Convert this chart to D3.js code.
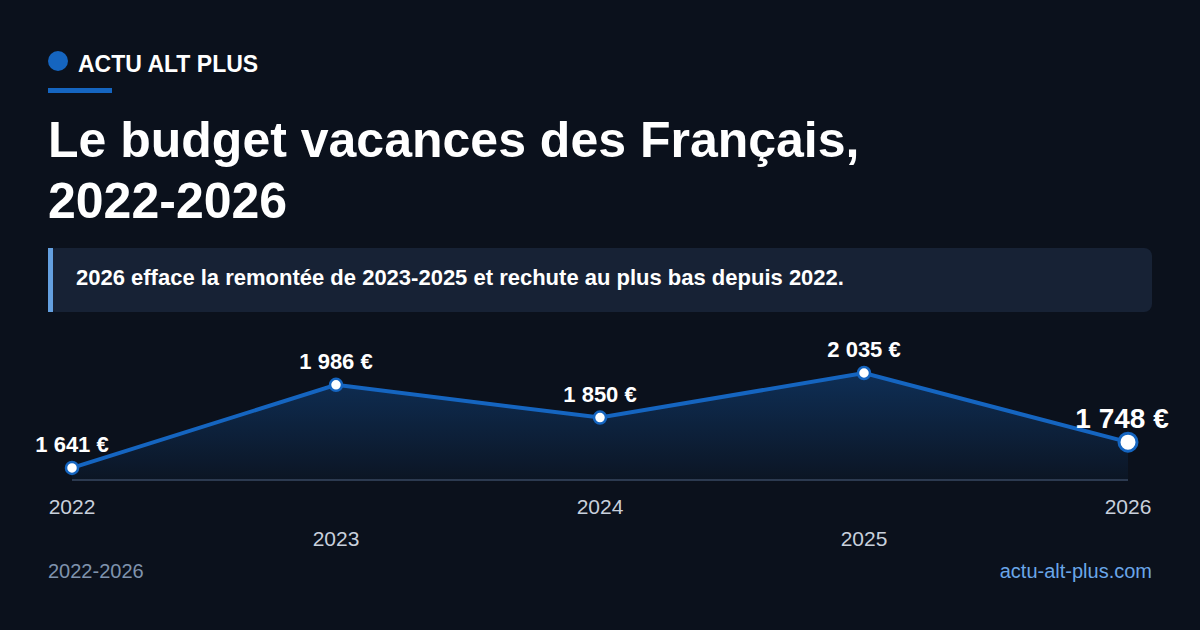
<!DOCTYPE html>
<html><head><meta charset="utf-8">
<script src="https://cdn.jsdelivr.net/npm/d3@7"></script>
<style>body{margin:0;background:#0b111c}svg{display:block}</style>
</head><body>
<script>
const years = ["2022","2023","2024","2025","2026"];
const values = [1641, 1986, 1850, 2035, 1748];
const valueLabels = ["1 641 €","1 986 €","1 850 €","2 035 €","1 748 €"];

const W=1200,H=630,F="Liberation Sans, Arial, sans-serif";
const svg=d3.select("body").append("svg").attr("width",W).attr("height",H);
svg.append("rect").attr("width",W).attr("height",H).attr("fill","#0b111c");

svg.append("circle").attr("cx",58).attr("cy",61).attr("r",10).attr("fill","#1565c0");
svg.append("text").attr("x",78).attr("y",72).text("ACTU ALT PLUS").attr("font-family",F).attr("font-weight","bold").attr("font-size",23).attr("fill","#fff");
svg.append("rect").attr("x",48).attr("y",88).attr("width",64).attr("height",5).attr("fill","#1565c0");
["Le budget vacances des Français,","2022-2026"].forEach((t,i)=>svg.append("text").attr("x",48).attr("y",157+i*61).text(t).attr("font-family",F).attr("font-weight","bold").attr("font-size",50).attr("fill","#fff"));

svg.append("rect").attr("x",48).attr("y",248).attr("width",1104).attr("height",64).attr("rx",8).attr("fill","#172235");
svg.append("rect").attr("x",48).attr("y",248).attr("width",5).attr("height",64).attr("fill","#64a0e0");
svg.append("text").attr("x",76).attr("y",285).text("2026 efface la remontée de 2023-2025 et rechute au plus bas depuis 2022.").attr("font-family",F).attr("font-weight","bold").attr("font-size",22).attr("fill","#fff");

const x=d3.scalePoint().domain(years).range([72,1128]);
const y=d3.scaleLinear().domain([1591,2035]).range([480,373]);
const defs=svg.append("defs");
const g=defs.append("linearGradient").attr("id","ag").attr("x1",0).attr("x2",0).attr("y1",0).attr("y2",1);
g.append("stop").attr("offset","0%").attr("stop-color","#1565c0").attr("stop-opacity",0.35);
g.append("stop").attr("offset","100%").attr("stop-color","#1565c0").attr("stop-opacity",0.05);
const data=years.map((yr,i)=>({yr,v:values[i],l:valueLabels[i]}));
svg.append("path").datum(data).attr("d",d3.area().x(d=>x(d.yr)).y0(480).y1(d=>y(d.v))).attr("fill","url(#ag)");
svg.append("line").attr("x1",72).attr("x2",1128).attr("y1",480).attr("y2",480).attr("stroke","#2c3a50").attr("stroke-width",2);
svg.append("path").datum(data).attr("d",d3.line().x(d=>x(d.yr)).y(d=>y(d.v))).attr("fill","none").attr("stroke","#1565c0").attr("stroke-width",4);
data.forEach((d,i)=>{
  const last=i===data.length-1;
  svg.append("circle").attr("cx",x(d.yr)).attr("cy",y(d.v)).attr("r",last?9:6).attr("fill","#fff").attr("stroke","#1565c0").attr("stroke-width",last?3:2.5);
  svg.append("text").attr("x",last?x(d.yr)-6:x(d.yr)).attr("y",y(d.v)-(last?14:16)).attr("text-anchor","middle")
    .text(d.l).attr("font-family",F).attr("font-weight","bold").attr("font-size",last?28:22).attr("fill","#fff");
  svg.append("text").attr("x",x(d.yr)).attr("y",i%2?546:514).attr("text-anchor","middle").text(d.yr).attr("font-family",F).attr("font-size",21).attr("fill","#c8d0dc");
});
svg.append("text").attr("x",48).attr("y",578).text("2022-2026").attr("font-family",F).attr("font-size",20).attr("fill","#7f93ad");
svg.append("text").attr("x",1152).attr("y",578).attr("text-anchor","end").text("actu-alt-plus.com").attr("font-family",F).attr("font-size",20).attr("fill","#6aa6e8");
</script>
</body></html>
